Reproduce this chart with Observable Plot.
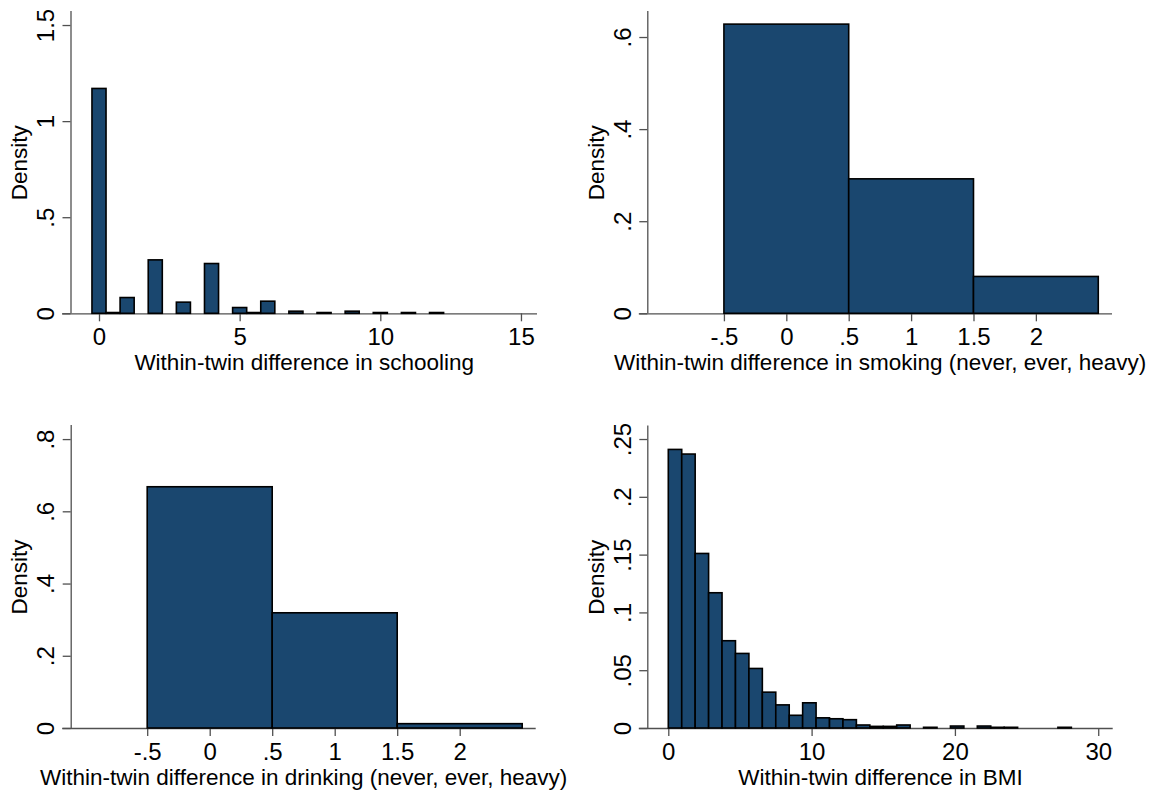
<!DOCTYPE html>
<html>
<head>
<meta charset="utf-8">
<script src="https://cdn.jsdelivr.net/npm/d3@7"></script>
<script src="https://cdn.jsdelivr.net/npm/@observablehq/plot@0.6"></script>
<style>
  body { margin: 0; background: #fff; }
  #chart { position: relative; width: 1156px; height: 792px; background: #fff;
           font-family: "Liberation Sans", Arial, Helvetica, sans-serif; }
  #chart svg { position: absolute; overflow: visible; }
</style>
</head>
<body>
<div id="chart"></div>
<script>
// ---------- DATA ----------
// Within-twin difference in schooling (bin centres, width 0.5)
const schoolingValues  = [0, 0.5, 1, 2, 3, 4, 5, 5.5, 6, 7, 8, 9, 10, 11, 12];
const schoolingDensity = [1.17, 0.004, 0.082, 0.278, 0.058, 0.259, 0.030, 0.004, 0.063, 0.011, 0.004, 0.011, 0.004, 0.004, 0.004];
const schoolingBinWidth = 0.5;

// Within-twin difference in smoking (never, ever, heavy)
const smokingValues  = [0, 1, 2];
const smokingDensity = [0.628, 0.292, 0.080];

// Within-twin difference in drinking (never, ever, heavy)
const drinkingValues  = [0, 1, 2];
const drinkingDensity = [0.668, 0.319, 0.012];
const categoryBinWidth = 1;

// Within-twin difference in BMI (30 bins starting at 0)
const bmiBinWidth = 0.9375;
const bmiDensity = [0.241, 0.237, 0.151, 0.117, 0.0755, 0.0645, 0.0515, 0.031, 0.0200, 0.0110,
                    0.0218, 0.0088, 0.0080, 0.0072, 0.0026, 0.0014, 0.0014, 0.0026, 0, 0.0006,
                    0, 0.0017, 0, 0.0017, 0.0006, 0.0006, 0, 0, 0, 0.0006];

// Tick values
const schoolingXTicks = [0, 5, 10, 15];
const schoolingYTicks = [0, 0.5, 1, 1.5];
const categoryXTicks  = [-0.5, 0, 0.5, 1, 1.5, 2];
const smokingYTicks   = [0, 0.2, 0.4, 0.6];
const drinkingYTicks  = [0, 0.2, 0.4, 0.6, 0.8];
const bmiXTicks       = [0, 10, 20, 30];
const bmiYTicks       = [0, 0.05, 0.1, 0.15, 0.2, 0.25];

// Labels
const yTitle = "Density";
const schoolingTitle = "Within-twin difference in schooling";
const smokingTitle   = "Within-twin difference in smoking (never, ever, heavy)";
const drinkingTitle  = "Within-twin difference in drinking (never, ever, heavy)";
const bmiTitle       = "Within-twin difference in BMI";

// ---------- STYLE ----------
const barFill = "#1a476f";
const axisColor = "#505050";
const tickFont = 24;
const titleFont = 22.5;

// Stata-style number format: drop leading zero ( .5, -.5 )
const fmt = d => d === 0 ? "0" : String(d).replace(/^(-?)0\./, "$1.");

function centred(values, density, w) {
  return values.map((v, i) => ({x1: v - w / 2, x2: v + w / 2, d: density[i]}));
}

const schoolingRows = centred(schoolingValues, schoolingDensity, schoolingBinWidth);
const smokingRows   = centred(smokingValues, smokingDensity, categoryBinWidth);
const drinkingRows  = centred(drinkingValues, drinkingDensity, categoryBinWidth);
const bmiRows = bmiDensity.map((d, i) => ({x1: i * bmiBinWidth, x2: (i + 1) * bmiBinWidth, d}))
                          .filter(r => r.d > 0);

const panels = [
  {rows: schoolingRows, xTicks: schoolingXTicks, yTicks: schoolingYTicks, title: schoolingTitle,
   left: 0, top: 0, mL: 70.5, mR: 41, mT: 11, mB: 82.7,
   xDomain: [-1.013, 15.57], yDomain: [0, 1.573]},
  {rows: smokingRows, xTicks: categoryXTicks, yTicks: smokingYTicks, title: smokingTitle,
   left: 578, top: 0, mL: 69.3, mR: 44, mT: 11, mB: 82.7,
   xDomain: [-1.114, 2.61], yDomain: [0, 0.6565]},
  {rows: drinkingRows, xTicks: categoryXTicks, yTicks: drinkingYTicks, title: drinkingTitle,
   left: 0, top: 396, mL: 70.7, mR: 42.3, mT: 29, mB: 64,
   xDomain: [-1.112, 2.608], yDomain: [0, 0.839]},
  {rows: bmiRows, xTicks: bmiXTicks, yTicks: bmiYTicks, title: bmiTitle,
   left: 578, top: 396, mL: 69.3, mR: 43.3, mT: 29.5, mB: 64,
   xDomain: [-1.465, 31.01], yDomain: [0, 0.2617]}
];

const chart = document.getElementById("chart");

for (const p of panels) {
  const svg = Plot.plot({
    width: 578, height: 396,
    marginLeft: p.mL, marginRight: p.mR, marginTop: p.mT, marginBottom: p.mB,
    style: {fontFamily: '"Liberation Sans", Arial, Helvetica, sans-serif', fontSize: tickFont + "px",
            color: "black", background: "transparent", overflow: "visible"},
    x: {domain: p.xDomain, axis: null},
    y: {domain: p.yDomain, axis: null},
    marks: [
      // x axis line (extends left by the tick length, as in Stata)
      Plot.ruleY([0], {insetLeft: -8.5, stroke: axisColor, strokeWidth: 1.3}),
      // y axis line
      Plot.ruleX([p.xDomain[0]], {stroke: axisColor, strokeWidth: 1.3}),
      // y ticks
      Plot.ruleY(p.yTicks, {y: d => d, x1: p.xDomain[0], x2: p.xDomain[0], insetLeft: -8,
                            stroke: axisColor, strokeWidth: 1.3}),
      // x ticks
      Plot.ruleX(p.xTicks, {x: d => d, y1: 0, y2: 0, insetBottom: -8,
                            stroke: axisColor, strokeWidth: 1.3}),
      // bars
      Plot.rectY(p.rows, {x1: "x1", x2: "x2", y: "d", fill: barFill, stroke: "black", strokeWidth: 1.6}),
      // y tick labels (rotated)
      Plot.text(p.yTicks, {y: d => d, frameAnchor: "left", dx: -17, rotate: -90,
                           lineAnchor: "bottom", textAnchor: "middle", text: fmt,
                           fontSize: tickFont, fill: "black"}),
      // x tick labels
      Plot.text(p.xTicks, {x: d => d, frameAnchor: "bottom", dy: 31.5, lineAnchor: "bottom",
                           textAnchor: "middle", text: fmt, fontSize: tickFont, fill: "black"}),
      // x title
      Plot.text([p.title], {frameAnchor: "bottom", dy: 56, lineAnchor: "bottom",
                            textAnchor: "middle", text: d => d, fontSize: titleFont, fill: "black"}),
      // y title
      Plot.text([yTitle], {frameAnchor: "left", dx: -44, rotate: -90, lineAnchor: "bottom",
                           textAnchor: "middle", text: d => d, fontSize: titleFont, fill: "black"})
    ]
  });
  svg.style.left = p.left + "px";
  svg.style.top = p.top + "px";
  chart.appendChild(svg);
}
</script>
</body>
</html>
